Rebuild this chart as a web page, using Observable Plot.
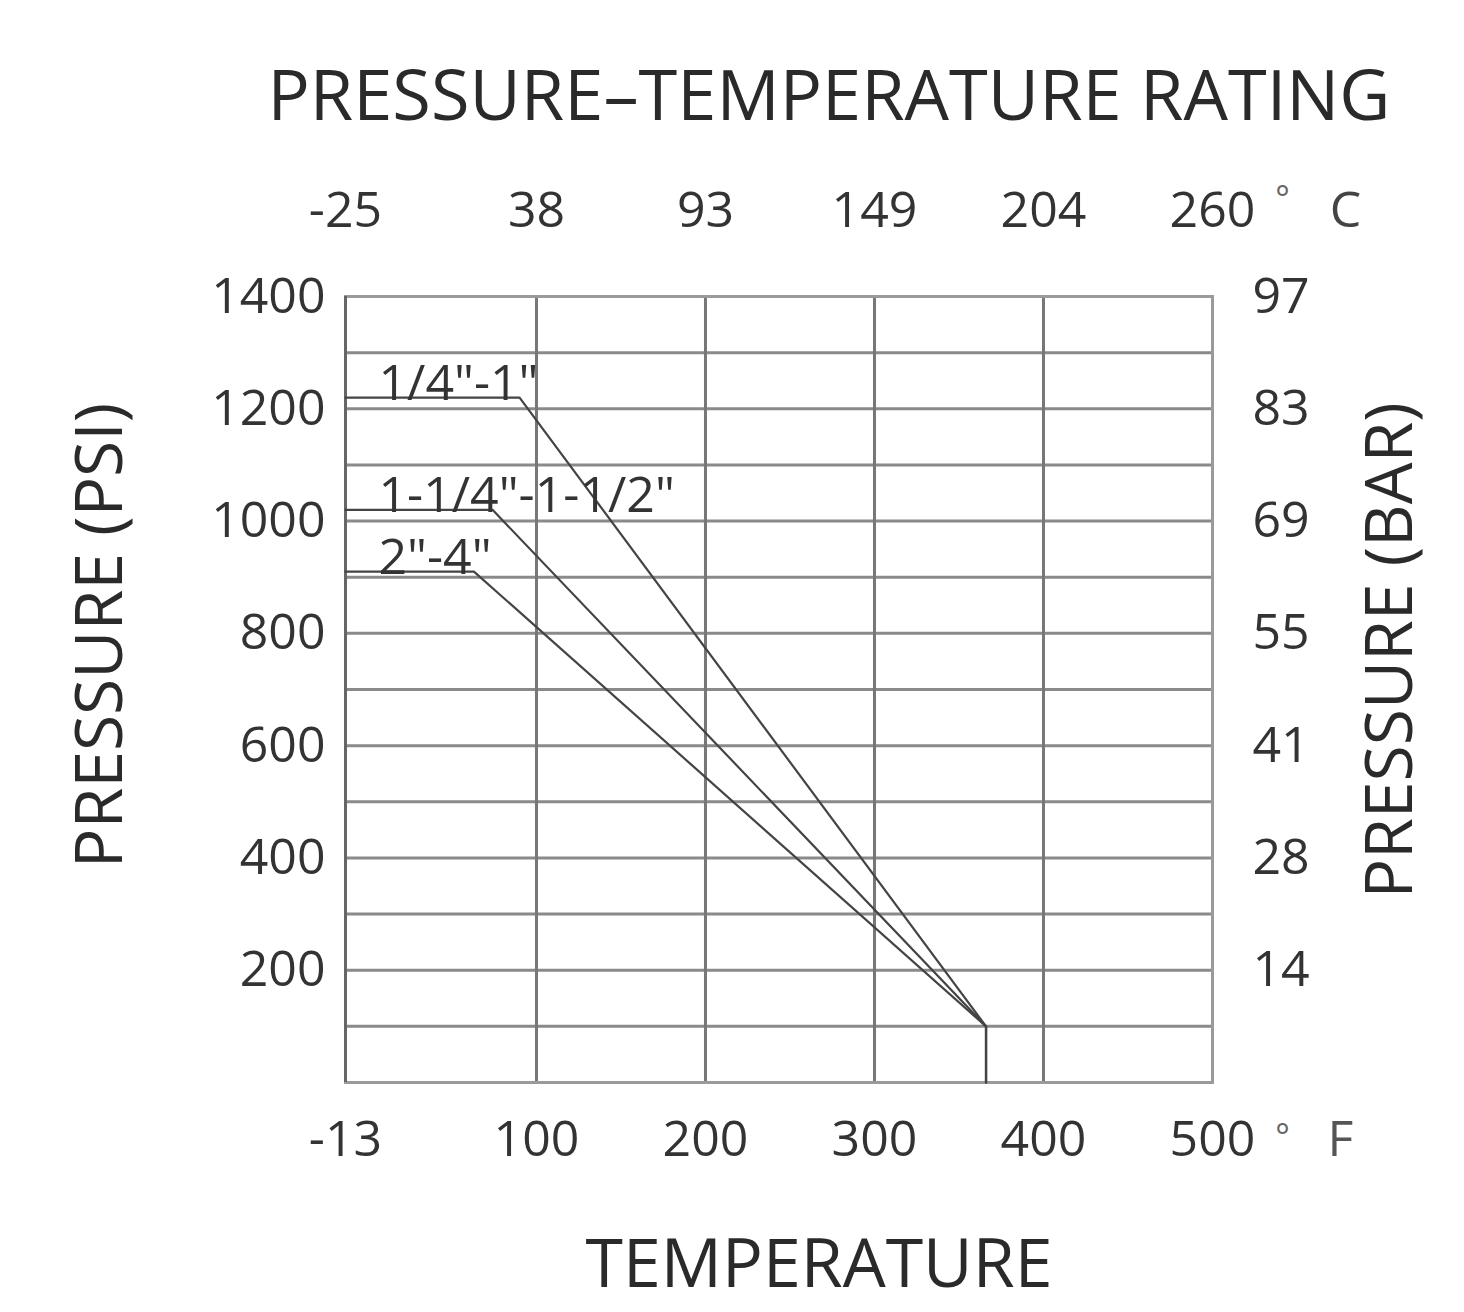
<!DOCTYPE html>
<html><head><meta charset="utf-8">
<script src="https://cdn.jsdelivr.net/npm/d3@7"></script>
<script src="https://cdn.jsdelivr.net/npm/@observablehq/plot@0.6"></script>
<style>body{margin:0;background:#fff}</style>
</head><body><div id="chart"></div>
<script>
// Temperature ticks (°F) and their Celsius equivalents
const fTicks = [-13, 100, 200, 300, 400, 500];
const fLabels = ["-13", "100", "200", "300", "400", "500"];
const cLabels = ["-25", "38", "93", "149", "204", "260"];
// Pressure ticks (PSI) and bar equivalents
const psiTicks = [200, 400, 600, 800, 1000, 1200, 1400];
const barLabels = ["14", "28", "41", "55", "69", "83", "97"];
const psiGrid = [100, 200, 300, 400, 500, 600, 700, 800, 900, 1000, 1100, 1200, 1300];
const tempGrid = [100, 200, 300, 400];
// Series: valve sizes, temperature (°F) and pressure (PSI) break points
const sizes = ['1/4"-1"', '1-1/4"-1-1/2"', '2"-4"'];
const seriesTemp = [[-13, 90, 366, 366], [-13, 74, 366, 366], [-13, 63, 366, 366]];
const seriesPsi = [[1220, 1220, 100, 0], [1020, 1020, 100, 0], [910, 910, 100, 0]];

const rows = [];
sizes.forEach((s, i) => seriesTemp[i].forEach((t, j) => rows.push({size: s, temp: t, psi: seriesPsi[i][j]})));
const labelRows = sizes.map((s, i) => ({size: s, temp: seriesTemp[i][0], psi: seriesPsi[i][0]}));

const txt = "#333";
const chart = Plot.plot({
  width: 1464, height: 1312,
  marginLeft: 345, marginRight: 252, marginTop: 296, marginBottom: 230,
  style: {fontFamily: "'Open Sans', sans-serif", fontSize: "50px", color: txt, background: "#fff"},
  x: {domain: [-13, 500]},
  y: {domain: [0, 1400]},
  marks: [
    Plot.ruleY(psiGrid, {stroke: "#8a8a8a", strokeWidth: 3}),
    Plot.ruleX(tempGrid, {stroke: "#777", strokeWidth: 3}),
    Plot.frame({stroke: "#9a9a9a", strokeWidth: 3}),
    Plot.ruleX([-13], {stroke: "#666", strokeWidth: 3}),
    Plot.line(rows, {x: "temp", y: "psi", z: "size", stroke: "#444", strokeWidth: 2.2}),
    Plot.text(labelRows, {x: "temp", y: "psi", text: "size", textAnchor: "start", lineAnchor: "bottom", dx: 33, dy: 2, fontSize: 50, fill: txt}),
    Plot.axisX(fTicks, {anchor: "bottom", tickSize: 0, tickPadding: 38, tickFormat: d => fLabels[fTicks.indexOf(d)], label: null}),
    Plot.axisX(fTicks, {anchor: "top", tickSize: 0, tickPadding: 70, tickFormat: d => cLabels[fTicks.indexOf(d)], label: null}),
    Plot.axisY(psiTicks, {anchor: "left", tickSize: 0, tickPadding: 20, tickFormat: d => String(d), label: null}),
    Plot.axisY(psiTicks, {anchor: "right", tickSize: 0, tickPadding: 40, tickFormat: d => barLabels[psiTicks.indexOf(d)], label: null}),
    // unit marks
    Plot.text(["°"], {x: [500], frameAnchor: "bottom", dx: 70, dy: 42, fontSize: 34, fill: "#666", lineAnchor: "top"}),
    Plot.text(["F"], {x: [500], frameAnchor: "bottom", dx: 128, dy: 38, lineAnchor: "top", fill: "#555"}),
    Plot.text(["°"], {x: [500], frameAnchor: "top", dx: 70, dy: -110, fontSize: 34, fill: "#666", lineAnchor: "top"}),
    Plot.text(["C"], {x: [500], frameAnchor: "top", dx: 133, dy: -70, lineAnchor: "bottom", fill: "#444"}),
    // titles
    Plot.text(["PRESSURE–TEMPERATURE RATING"], {frameAnchor: "top", dx: 50, dy: -199, fontSize: 70, lineAnchor: "middle", fill: "#2a2a2a", className: "main-title"}),
    Plot.text(["TEMPERATURE"], {frameAnchor: "bottom", dx: 40, dy: 183, fontSize: 68, lineAnchor: "middle", fill: "#2a2a2a"}),
    Plot.text(["PRESSURE (PSI)"], {frameAnchor: "left", textAnchor: "middle", dx: -245, dy: -54, rotate: -90, fontSize: 66, lineAnchor: "middle", fill: "#2a2a2a"}),
    Plot.text(["PRESSURE (BAR)"], {frameAnchor: "right", textAnchor: "middle", dx: 178, dy: -39, rotate: -90, fontSize: 66, lineAnchor: "middle", fill: "#2a2a2a"})
  ]
});
document.getElementById("chart").appendChild(chart);
d3.select(chart).selectAll("g.main-title text").attr("textLength", 1123).attr("lengthAdjust", "spacingAndGlyphs");
</script>
</body></html>
